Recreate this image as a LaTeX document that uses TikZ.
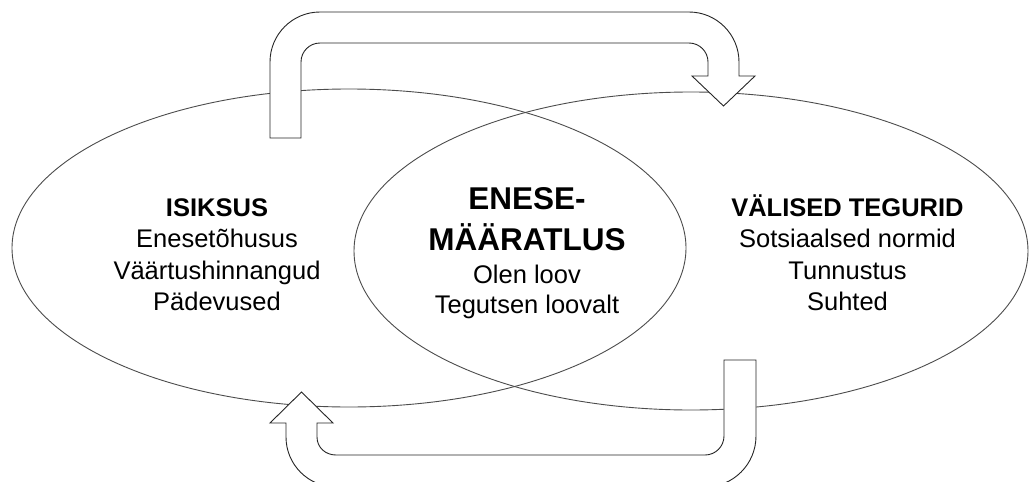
\documentclass[tikz,border=0pt]{standalone}
\usepackage{fontspec}
\setmainfont{Liberation Sans}
\tikzset{
  ring/.style={draw=black!70, line width=0.9pt},
  bentarrow/.style={draw=black!85, line width=0.9pt, fill=white, line join=miter},
  txt/.style={anchor=base, inner sep=0pt, font=\fontsize{25.5}{31}\selectfont},
  head/.style={anchor=base, inner sep=0pt, font=\fontsize{25.5}{31}\selectfont\bfseries},
  bighead/.style={anchor=base, inner sep=0pt, font=\fontsize{31.5}{38}\selectfont\bfseries}
}
\begin{document}
\begin{tikzpicture}[x=1pt,y=-1pt]
\useasboundingbox (0,0) rectangle (1029,482);
\clip (0,0) rectangle (1029,482);
\fill[white] (0,0) rectangle (1029,482);
% two overlapping ellipses
\draw[ring] (349,248) ellipse [x radius=337, y radius=159];
\draw[ring] (691,251) ellipse [x radius=337, y radius=159];
% top bent arrow (left ellipse -> right ellipse)
\draw[bentarrow] (270,138) -- (270,62) .. controls (270,34.4) and (292.4,12) .. (320,12)
  -- (689,12) .. controls (716.6,12) and (739,34.4) .. (739,62)
  -- (739,76) -- (755,76) -- (723.5,106) -- (692,76) -- (708,76)
  -- (708,62) .. controls (708,51.5) and (699.5,43) .. (689,43)
  -- (320,43) .. controls (309.5,43) and (301,51.5) .. (301,62)
  -- (301,138) -- cycle;
% bottom bent arrow (right ellipse -> left ellipse)
\draw[bentarrow] (724,360) -- (756,360) -- (756,436) .. controls (756,464.2) and (733.2,487) .. (705,487)
  -- (336,487) .. controls (308.4,487) and (286,464.6) .. (286,437)
  -- (286,423) -- (270,423) -- (301.5,392) -- (333,423) -- (317,423)
  -- (317,437) .. controls (317,447.5) and (325.5,455) .. (336,455)
  -- (705,455) .. controls (715.5,455) and (724,446.5) .. (724,436)
  -- cycle;
% left texts
\node[head] (isiksus) at (217,216) {ISIKSUS};
\node[txt] (l1) at (217,247.5) {Enesetõhusus};
\node[txt] (l2) at (217,279) {Väärtushinnangud};
\node[txt] (l3) at (217,310) {Pädevused};
% centre texts
\node[bighead] (c0) at (527,209) {ENESE-};
\node[bighead] (c1) at (527,250) {MÄÄRATLUS};
\node[txt] (c2) at (527,283) {Olen loov};
\node[txt] (c3) at (527,313) {Tegutsen loovalt};
% right texts
\node[head] (valised) at (847.5,216) {VÄLISED TEGURID};
\node[txt] (r1) at (847.5,247.5) {Sotsiaalsed normid};
\node[txt] (r2) at (847.5,279) {Tunnustus};
\node[txt] (r3) at (847.5,310) {Suhted};
\end{tikzpicture}
\end{document}
